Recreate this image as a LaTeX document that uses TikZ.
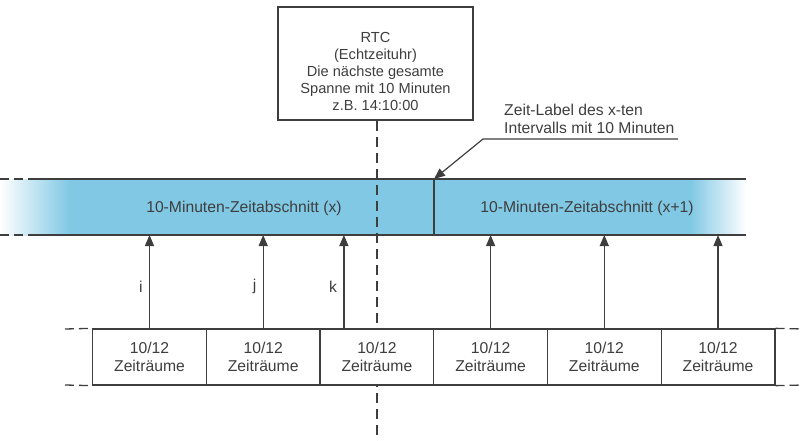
\documentclass[tikz,border=0pt]{standalone}
\usepackage{fontspec}
\setmainfont{Liberation Sans}
\usetikzlibrary{arrows.meta}

\definecolor{bandblue}{RGB}{128,200,228}
\definecolor{inkgray}{RGB}{62,62,62}

\tikzset{
  rule/.style={draw=inkgray, line width=1.3pt},
  stub/.style={rule, dash pattern=on 9pt off 5pt},
  cut/.style={draw=inkgray, line width=1.3pt, dash pattern=on 10pt off 6pt},
  period/.style={rule, fill=white, minimum width=113.7pt, minimum height=56pt, inner sep=0pt, align=center, text=inkgray},
  up/.style={draw=inkgray, line width=1.2pt, -{Triangle[length=11pt,width=9pt]}},
  tag/.style={text=inkgray}
}

\begin{document}
\begin{tikzpicture}[x=1pt, y=-1pt, font=\fontsize{15.7}{18}\selectfont]
  \useasboundingbox (0,0) rectangle (803,441);

  % 10-minute band, fading out at both ends
  \fill[bandblue] (70,179) rectangle (690,235);
  \shade[left color=white, right color=bandblue] (0,179) rectangle (70,235);
  \shade[left color=bandblue, right color=white] (690,179) rectangle (746,235);
  \draw[stub] (0,179) -- (37,179);
  \draw[stub] (0,235) -- (37,235);
  \draw[rule] (37,179) -- (746,179);
  \draw[rule] (37,235) -- (746,235);
  \coordinate (bandlow) at (0,235);
  \coordinate (mark) at (434,179);
  \draw[rule] (mark) -- (434,235);

  \node[tag] (segx) at (244,208) {10-Minuten-Zeitabschnitt (x)};
  \node[tag] (segxx) at (587,208) {10-Minuten-Zeitabschnitt (x+1)};

  % real time clock
  \node[rule, minimum width=195pt, minimum height=113pt] (rtc) at (375.5,63.5) {};
  \node[tag, align=center, font=\fontsize{14.6}{16.8}\selectfont] (rtctext) at (375.5,71.5)
    {RTC\\(Echtzeituhr)\\Die nächste gesamte\\Spanne mit 10 Minuten\\z.B. 14:10:00};
  \coordinate (cutend) at (377,441);
  \draw[cut] (rtc.south -| cutend) -- (cutend);

  % time label of the interval
  \coordinate (elbow) at (483,139);
  \coordinate (lineend) at (678,139);
  \draw[up] (lineend) -- (elbow) -- (mark);
  \node[tag, anchor=south west, align=left, inner sep=0pt] (lbl) at (504,134)
    {Zeit-Label des x-ten\\Intervalls mit 10 Minuten};

  % periods
  \foreach \n in {0,...,5}
    \node[period] (p\n) at ({149.5+113.7*\n},357) {10/12\\Zeiträume};
  \draw[stub] (65,329) -- (p0.north west);
  \draw[stub] (65,385) -- (p0.south west);
  \draw[stub] (p5.north east) -- (803,329);
  \draw[stub] (p5.south east) -- (803,385);

  \draw[up] (p0.north) -- (p0.north |- bandlow) node[tag, pos=0.45, left=3pt] {i};
  \draw[up] (p1.north) -- (p1.north |- bandlow) node[tag, pos=0.45, left=3pt] {j};
  \coordinate (kfoot) at ([xshift=-33pt]p2.north);
  \draw[up] (kfoot) -- (kfoot |- bandlow) node[tag, pos=0.45, left=3pt] {k};
  \foreach \n in {3,4,5}
    \draw[up] (p\n.north) -- (p\n.north |- bandlow);
\end{tikzpicture}
\end{document}
